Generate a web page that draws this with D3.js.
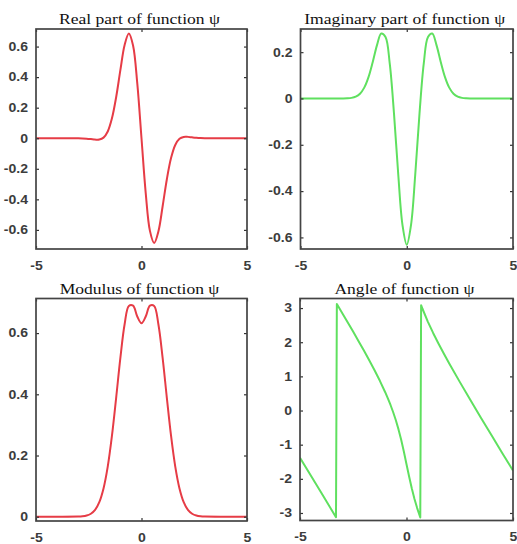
<!DOCTYPE html>
<html>
<head>
<meta charset="utf-8">
<script src="https://cdn.jsdelivr.net/npm/d3@7/dist/d3.min.js"></script>
<style>
  html, body { margin: 0; padding: 0; background: #fff; }
  svg { display: block; }
  .title { font-family: "Liberation Serif", "Times New Roman", serif; font-size: 15px; fill: #111; }
  .tick text { font-family: "Liberation Sans", Arial, sans-serif; font-size: 12px; font-weight: bold; fill: #3c3c3c; }
</style>
</head>
<body>
<svg id="chart" width="517" height="544"></svg>
<script>
// Sample abscissae for the wavelet curves
const waveX = [-5, -4, -3, -2.8, -2.6, -2.4, -2.2, -2, -1.8, -1.6, -1.4, -1.2, -1, -0.8, -0.6, -0.4, -0.2,
  0, 0.2, 0.4, 0.6, 0.8, 1, 1.2, 1.4, 1.6, 1.8, 2, 2.2, 2.4, 2.6, 2.8, 3, 4, 5];

const realPart = [0, 0, -0.0005, -0.0012, -0.0029, -0.0057, -0.0089, -0.0087, 0.0039, 0.0443, 0.1301,
  0.2698, 0.4469, 0.6105, 0.6857, 0.6065, 0.3587, 0, -0.3587, -0.6065, -0.6857, -0.6105, -0.4469,
  -0.2698, -0.1301, -0.0443, -0.0039, 0.0087, 0.0089, 0.0057, 0.0029, 0.0012, 0.0005, 0, 0];

const imagPart = [0, 0, 0.0001, 0.0007, 0.0026, 0.0079, 0.0207, 0.0469, 0.0924, 0.1577, 0.2305, 0.2807,
  0.2657, 0.1503, -0.0652, -0.3282, -0.5469, -0.632, -0.5469, -0.3282, -0.0652, 0.1503, 0.2657, 0.2807,
  0.2305, 0.1577, 0.0924, 0.0469, 0.0207, 0.0079, 0.0026, 0.0007, 0.0001, 0, 0];

const modulus = [0, 0, 0.0005, 0.0014, 0.0039, 0.0098, 0.0225, 0.0477, 0.0925, 0.1638, 0.2647, 0.3893,
  0.5199, 0.6288, 0.6887, 0.6896, 0.6540, 0.632, 0.6540, 0.6896, 0.6887, 0.6288, 0.5199, 0.3893, 0.2647,
  0.1638, 0.0925, 0.0477, 0.0225, 0.0098, 0.0039, 0.0014, 0.0005, 0, 0];

// Phase samples (wrapped to [-pi, pi]); neighbouring samples across a wrap give the vertical jumps
const angleX = [-5, -4.5, -4, -3.5, -3.31, -3.27, -3, -2.75, -2.5, -2.25, -2, -1.75, -1.5, -1.25, -1,
  -0.875, -0.75, -0.625, -0.5, -0.375, -0.25, -0.125, 0, 0.125, 0.25, 0.375, 0.5, 0.647, 0.686, 0.75,
  1, 1.25, 1.5, 1.75, 2, 2.5, 3, 3.5, 4, 4.5, 5];
const angleVal = [-1.383, -1.894, -2.408, -2.925, -3.123, 3.118, 2.835, 2.570, 2.303, 2.031, 1.755,
  1.472, 1.178, 0.870, 0.536, 0.356, 0.162, -0.050, -0.285, -0.552, -0.857, -1.201, -1.571, -1.941,
  -2.284, -2.589, -2.856, -3.131, 3.085, 2.980, 2.605, 2.272, 1.963, 1.670, 1.387, 0.839, 0.307,
  -0.217, -0.734, -1.248, -1.759];

const xTicks = [-5, 0, 5];
const realTicks = [-0.6, -0.4, -0.2, 0, 0.2, 0.4, 0.6];
const imagTicks = [-0.6, -0.4, -0.2, 0, 0.2];
const modTicks = [0, 0.2, 0.4, 0.6];
const angleTicks = [-3, -2, -1, 0, 1, 2, 3];

const titles = ["Real part of function \u03C8", "Imaginary part of function \u03C8",
  "Modulus of function \u03C8", "Angle of function \u03C8"];

const RED = "#e63c46";
const GREEN = "#5fe05f";

// the figure is rendered slightly wider than its natural text proportions
const TEXT_STRETCH = 1.17;

const panels = [
  { title: titles[0], box: [36, 29, 247, 249], yDom: [-0.725, 0.715], yTicks: realTicks,
    xs: waveX, ys: realPart, color: RED, curve: d3.curveCatmullRom },
  { title: titles[1], box: [300.5, 29, 513, 249], yDom: [-0.65, 0.30], yTicks: imagTicks,
    xs: waveX, ys: imagPart, color: GREEN, curve: d3.curveCatmullRom },
  { title: titles[2], box: [36, 298.5, 247, 521], yDom: [-0.014, 0.713], yTicks: modTicks,
    xs: waveX, ys: modulus, color: RED, curve: d3.curveCatmullRom },
  { title: titles[3], box: [300, 298.5, 513, 520.5], yDom: [-3.22, 3.28], yTicks: angleTicks,
    xs: angleX, ys: angleVal, color: GREEN, curve: d3.curveLinear }
];

const svg = d3.select("#chart");
const fmt = d => String(+(+d).toFixed(1));   // plain hyphen minus, like the original labels

function stretch(sel) {
  sel.each(function () {
    const w = this.getComputedTextLength();
    d3.select(this).attr("textLength", w * TEXT_STRETCH).attr("lengthAdjust", "spacingAndGlyphs");
  });
}

panels.forEach(p => {
  const [x0, y0, x1, y1] = p.box;
  const x = d3.scaleLinear().domain([-5, 5]).range([x0, x1]);
  const y = d3.scaleLinear().domain(p.yDom).range([y1, y0]);
  const g = svg.append("g");

  const clipId = "clip" + Math.round(x0) + "_" + Math.round(y0);
  g.append("clipPath").attr("id", clipId)
    .append("rect").attr("x", x0).attr("y", y0).attr("width", x1 - x0).attr("height", y1 - y0);

  const pts = p.xs.map((v, i) => [v, p.ys[i]]);
  g.append("path")
    .datum(pts)
    .attr("clip-path", `url(#${clipId})`)
    .attr("fill", "none")
    .attr("stroke", p.color)
    .attr("stroke-width", 2)
    .attr("stroke-linejoin", "round")
    .attr("d", d3.line().x(d => x(d[0])).y(d => y(d[1])).curve(p.curve));

  // axes with inward ticks on all four sides
  const tickLen = 3;
  const bottom = g.append("g").attr("transform", `translate(0,${y1})`)
    .call(d3.axisBottom(x).tickValues(xTicks).tickSizeInner(-tickLen).tickSizeOuter(0).tickPadding(12)
      .tickFormat(fmt));
  const top = g.append("g").attr("transform", `translate(0,${y0})`)
    .call(d3.axisTop(x).tickValues(xTicks).tickSizeInner(-tickLen).tickSizeOuter(0).tickFormat(""));
  const left = g.append("g").attr("transform", `translate(${x0},0)`)
    .call(d3.axisLeft(y).tickValues(p.yTicks).tickSizeInner(-tickLen).tickSizeOuter(0).tickPadding(8)
      .tickFormat(fmt));
  const right = g.append("g").attr("transform", `translate(${x1},0)`)
    .call(d3.axisRight(y).tickValues(p.yTicks).tickSizeInner(-tickLen).tickSizeOuter(0).tickFormat(""));

  [bottom, top, left, right].forEach(a => {
    a.select(".domain").remove();
    a.selectAll(".tick line").attr("stroke", "#333").attr("stroke-width", 1.2);
  });
  stretch(bottom.selectAll(".tick text"));
  stretch(left.selectAll(".tick text"));

  // frame
  g.append("rect")
    .attr("x", x0).attr("y", y0).attr("width", x1 - x0).attr("height", y1 - y0)
    .attr("fill", "none").attr("stroke", "#444").attr("stroke-width", 1.7);

  const t = g.append("text").attr("class", "title")
    .attr("x", (x0 + x1) / 2 - 2).attr("y", y0 - 5)
    .attr("text-anchor", "middle")
    .text(p.title);
  stretch(t);
});
</script>
</body>
</html>
